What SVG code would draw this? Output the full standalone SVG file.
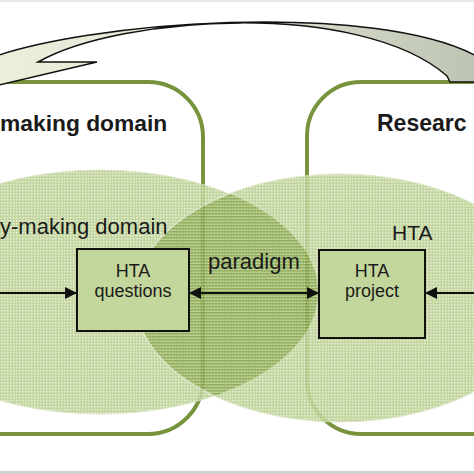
<svg xmlns="http://www.w3.org/2000/svg" width="474" height="474" viewBox="0 0 474 474">
<defs>
<style>
.dom{fill:none;stroke:#77933c;stroke-width:4}
.box{fill:#c3d69b;stroke:#111;stroke-width:2}
.t{font-family:"Liberation Sans",Arial,sans-serif;fill:#1a1a1a}
.conn{stroke:#111;stroke-width:2;fill:none}
</style>
<pattern id="dots" width="3" height="3" patternUnits="userSpaceOnUse">
<rect width="3" height="3" fill="#bdd193"/>
<rect x="1" y="1" width="1.5" height="1.5" fill="#e4edd3"/>
</pattern>
<pattern id="stripes" width="3" height="3" patternUnits="userSpaceOnUse">
<rect width="3" height="3" fill="#a6bf75"/>
<rect y="0" width="3" height="1.4" fill="#85a34a"/>
<rect x="1" y="2" width="1" height="1" fill="#c2d59d"/>
</pattern>
<clipPath id="leftClip"><ellipse cx="100" cy="292" rx="218" ry="122"/></clipPath>
<linearGradient id="arcFill" x1="0" y1="0" x2="1" y2="0">
<stop offset="0" stop-color="#ecf1dc"/>
<stop offset="0.5" stop-color="#e2e7d4"/>
<stop offset="1" stop-color="#bcc3b0"/>
</linearGradient>
<marker id="ah" viewBox="0 0 12 12" refX="12" refY="6" markerWidth="12" markerHeight="12" markerUnits="userSpaceOnUse" orient="auto-start-reverse">
<path d="M0,0 L12,6 L0,12 Z" fill="#111"/>
</marker>
</defs>
<rect x="0" y="0" width="474" height="2" fill="#e8e8e8"/>
<rect x="0" y="471" width="474" height="3" fill="#d0d0d0"/>

<g id="left-domain">
<rect class="dom" x="-60" y="82" width="263" height="352" rx="55" ry="55"/>
<text class="t" x="0" y="131" font-size="22.8" font-weight="bold">making domain</text>
</g>
<g id="right-domain">
<rect class="dom" x="307" y="82" width="230" height="352" rx="54" ry="54"/>
<text class="t" x="377" y="131" font-size="23" font-weight="bold">Researc</text>
</g>

<g id="ellipses" opacity="0.88">
<g id="left-ellipse">
<ellipse cx="100" cy="292" rx="218" ry="122" fill="url(#dots)" stroke="#dbe6c4" stroke-width="1"/>
</g>
<g id="right-ellipse">
<ellipse cx="340" cy="298" rx="205" ry="124" fill="url(#dots)" stroke="#dbe6c4" stroke-width="1"/>
</g>
<g id="lens">
<ellipse cx="340" cy="298" rx="205" ry="124" fill="url(#stripes)" clip-path="url(#leftClip)" stroke="#d6e2bd" stroke-width="1.5"/>
</g>
</g>

<g id="labels">
<text class="t" x="0" y="234" font-size="22">y-making domain</text>
<text class="t" x="392" y="240" font-size="21">HTA</text>
<text class="t" x="208" y="269" font-size="22">paradigm</text>
</g>

<g id="box-questions">
<rect class="box" x="77" y="249" width="112" height="82"/>
<text class="t" x="133" y="277" font-size="18" text-anchor="middle">HTA</text>
<text class="t" x="133" y="297" font-size="18" text-anchor="middle">questions</text>
</g>
<g id="box-project">
<rect class="box" x="319" y="250" width="106" height="88"/>
<text class="t" x="372" y="277" font-size="18" text-anchor="middle">HTA</text>
<text class="t" x="372" y="297" font-size="18" text-anchor="middle">project</text>
</g>

<g id="connectors">
<path d="M-40,94 L97,62 L38,62 C120,15 360,0 447,76 L450,82 L480,82 L480,58 C380,0 80,20 -20,62 Z" fill="url(#arcFill)" stroke="#111" stroke-width="1.5" stroke-linejoin="miter"/>
<line class="conn" x1="-5" y1="293" x2="77" y2="293" marker-end="url(#ah)"/>
<line class="conn" x1="189" y1="293" x2="319" y2="293" marker-start="url(#ah)" marker-end="url(#ah)"/>
<line class="conn" x1="480" y1="293" x2="425" y2="293" marker-end="url(#ah)"/>
</g>
</svg>
